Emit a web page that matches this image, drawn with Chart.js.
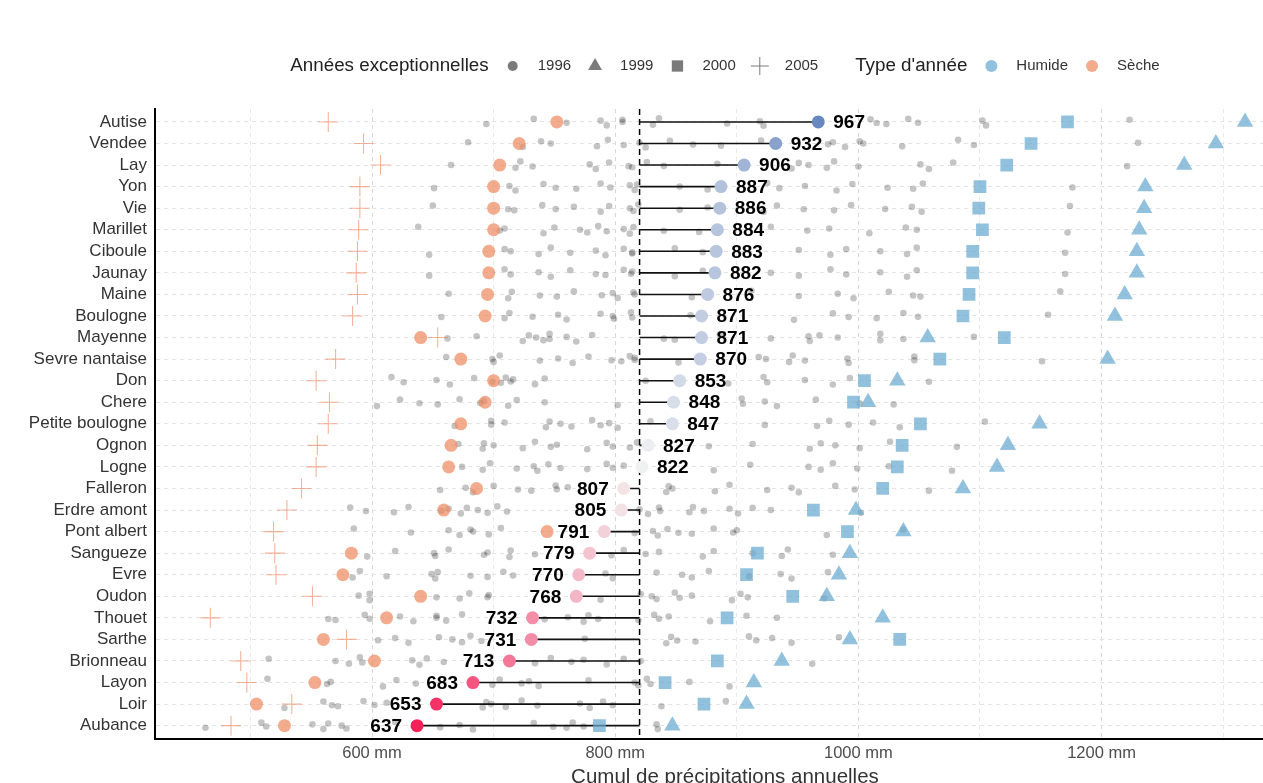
<!DOCTYPE html>
<html>
<head>
<meta charset="utf-8">
<script src="https://cdn.jsdelivr.net/npm/chart.js@4.4.0/dist/chart.umd.min.js"></script>
<style>
  html, body { margin: 0; padding: 0; background: #fff; overflow: hidden; }
  #wrap { width: 1306px; height: 794px; }
</style>
</head>
<body>
<div id="wrap"><canvas id="chart" width="1306" height="794"></canvas></div>
<script>
// ---- données ----
const rivers = ["Autise", "Vendee", "Lay", "Yon", "Vie", "Marillet", "Ciboule", "Jaunay", "Maine",
  "Boulogne", "Mayenne", "Sevre nantaise", "Don", "Chere", "Petite boulogne", "Ognon", "Logne",
  "Falleron", "Erdre amont", "Pont albert", "Sangueze", "Evre", "Oudon", "Thouet", "Sarthe",
  "Brionneau", "Layon", "Loir", "Aubance"];

const moyennes = [967, 932, 906, 887, 886, 884, 883, 882, 876, 871, 871, 870, 853, 848, 847,
  827, 822, 807, 805, 791, 779, 770, 768, 732, 731, 713, 683, 653, 637];

// années exceptionnelles (1996 et 2005 : sèches, 1999 et 2000 : humides)
const an1996 = [752, 721, 705, 700, 700, 700, 696, 696, 695, 693, 640, 673, 700, 693, 673,
  665, 663, 686, 659, 744, 583, 576, 640, 612, 560, 602, 553, 505, 528];
const an1999 = [1318, 1294, 1268, 1236, 1235, 1231, 1229, 1229, 1219, 1211, 1057, 1205, 1032, 1008, 1149,
  1123, 1114, 1086, 998, 1037, 993, 984, 974, 1020, 993, 937, 914, 908, 847];
const an2000 = [1172, 1142, 1122, 1100, 1099, 1102, 1094, 1094, 1091, 1086, 1120, 1067, 1005, 996, 1051,
  1036, 1032, 1020, 963, 991, 917, 908, 946, 892, 1034, 884, 841, 873, 787];
const an2005 = [564, 593, 607, 590, 590, 589, 588, 587, 588, 584, 654, 570, 554, 565, 564,
  555, 554, 542, 530, 519, 520, 521, 551, 467, 579, 492, 497, 534, 484];

// autres années (points gris)
const autres = [
  [694, 733, 760, 788, 793, 806, 806, 831, 836, 892, 919, 922, 1010, 1015, 1023, 1041, 1049, 1102, 1105, 1223],
  [679, 724, 739, 747, 785, 794, 807, 820, 825, 845, 864, 887, 920, 975, 979, 989, 1001, 1004, 1036, 1082, 1095, 1230],
  [665, 718, 722, 732, 779, 784, 795, 811, 814, 826, 840, 884, 945, 951, 959, 974, 980, 1000, 1051, 1058, 1078, 1221],
  [651, 713, 718, 741, 751, 768, 788, 796, 812, 816, 818, 853, 876, 925, 935, 956, 982, 995, 1024, 1045, 1053, 1176],
  [650, 712, 717, 740, 751, 766, 788, 795, 812, 815, 819, 853, 876, 922, 933, 955, 980, 994, 1022, 1044, 1052, 1174],
  [638, 705, 709, 741, 750, 771, 777, 786, 793, 807, 812, 815, 840, 869, 928, 958, 976, 1009, 1039, 1048, 1172],
  [647, 709, 714, 737, 747, 763, 784, 792, 807, 814, 814, 849, 872, 951, 977, 990, 1018, 1040, 1048, 1170],
  [647, 709, 714, 737, 747, 763, 784, 792, 807, 813, 814, 849, 872, 928, 951, 977, 990, 1018, 1040, 1048, 1170],
  [663, 712, 715, 738, 752, 766, 789, 798, 802, 815, 816, 863, 912, 951, 983, 996, 1025, 1045, 1051, 1166],
  [657, 709, 713, 732, 753, 760, 788, 798, 799, 813, 814, 862, 947, 979, 992, 1015, 1037, 1049, 1156],
  [662, 686, 724, 729, 735, 741, 746, 746, 760, 768, 781, 840, 849, 886, 928, 959, 960, 968, 983, 1018, 1018, 1037, 1095],
  [661, 699, 700, 705, 738, 753, 765, 778, 797, 805, 812, 816, 816, 852, 918, 924, 943, 946, 956, 991, 992, 1046, 1046, 1151],
  [616, 626, 653, 664, 684, 699, 706, 710, 714, 716, 734, 742, 825, 893, 922, 925, 956, 979, 993, 1058],
  [604, 623, 639, 654, 672, 689, 692, 712, 719, 742, 802, 904, 905, 923, 933, 965, 1001, 1029],
  [668, 698, 698, 709, 743, 746, 755, 764, 781, 788, 795, 802, 829, 923, 966, 976, 992, 1012, 1034, 1104],
  [671, 691, 692, 700, 724, 734, 747, 752, 777, 793, 798, 812, 818, 877, 913, 960, 969, 981, 1001, 1026, 1081],
  [674, 691, 697, 719, 733, 736, 745, 755, 777, 793, 798, 807, 881, 911, 959, 969, 979, 999, 1025, 1077],
  [656, 677, 683, 700, 720, 731, 751, 752, 761, 842, 844, 847, 882, 894, 925, 945, 951, 981, 997, 1058],
  [582, 595, 618, 630, 657, 663, 673, 678, 687, 695, 703, 711, 820, 827, 836, 837, 861, 864, 873, 894, 901, 913, 928, 1002],
  [585, 632, 663, 672, 681, 683, 696, 706, 816, 831, 835, 843, 852, 863, 881, 897, 900, 974, 1037],
  [596, 619, 651, 652, 663, 692, 695, 713, 714, 734, 797, 807, 825, 836, 872, 881, 913, 937, 942, 979],
  [584, 590, 612, 649, 652, 654, 681, 695, 708, 716, 792, 798, 834, 855, 863, 877, 910, 936, 945, 975],
  [589, 598, 598, 653, 672, 680, 695, 696, 788, 821, 830, 834, 849, 853, 863, 896, 903, 909, 972],
  [564, 570, 594, 598, 623, 634, 653, 653, 661, 674, 742, 761, 774, 778, 786, 819, 832, 836, 844, 878, 908, 933],
  [605, 619, 630, 655, 666, 674, 681, 690, 775, 842, 846, 851, 866, 910, 916, 929, 945, 984],
  [515, 570, 581, 590, 592, 633, 639, 645, 659, 734, 747, 764, 774, 793, 807, 821, 962],
  [514, 563, 566, 609, 620, 636, 699, 705, 723, 729, 737, 778, 816, 819, 826, 829, 861, 894],
  [528, 560, 567, 572, 593, 602, 612, 691, 694, 698, 710, 723, 736, 771, 779, 790, 798, 838, 891],
  [463, 509, 513, 551, 560, 564, 575, 579, 619, 656, 672, 683, 733, 749, 760, 765, 774, 834, 835]
];

const xTicks = [500, 600, 700, 800, 900, 1000, 1100, 1200, 1300];
const xLabelled = [600, 800, 1000, 1200];

// ---- style ----
const FONT = '"Liberation Sans", Arial, sans-serif';
const HUMIDE = 'rgba(103,169,207,0.72)';
const SECHE = 'rgba(239,138,98,0.72)';
const JITTER = [0.1, -0.14, 0.04, -0.06, 0.16, -0.1, 0.0, 0.13, -0.17, 0.07, -0.03, 0.18, -0.12, 0.05];
const LOW = [245, 32, 88], MID = [242, 242, 242], HIGH = [104, 136, 194];

const reference = moyennes.reduce((a, b) => a + b, 0) / moyennes.length;
const vmin = Math.min(...moyennes), vmax = Math.max(...moyennes);

function couleur(v) {
  let t, c;
  if (v >= reference) { t = (v - reference) / (vmax - reference); c = HIGH; }
  else { t = (reference - v) / (reference - vmin); c = LOW; }
  const m = MID.map((m0, k) => Math.round(m0 + (c[k] - m0) * t));
  return `rgb(${m[0]},${m[1]},${m[2]})`;
}

const grisData = [];
autres.forEach((vals, i) => vals.forEach((v, j) => grisData.push({ x: v, y: i + JITTER[(j + i * 3) % JITTER.length] })));

const segData = [];
moyennes.forEach((v, i) => { segData.push({ x: reference, y: i }, { x: v, y: i }, { x: reference, y: null }); });

const pts = arr => arr.map((v, i) => ({ x: v, y: i }));

// étiquettes des moyennes
const etiquettes = {
  id: 'etiquettes',
  afterDatasetsDraw(chart) {
    const { ctx, scales: { x, y } } = chart;
    ctx.save();
    ctx.font = 'bold 19px ' + FONT;
    ctx.fillStyle = '#000';
    ctx.textBaseline = 'middle';
    moyennes.forEach((v, i) => {
      const px = x.getPixelForValue(v), py = y.getPixelForValue(i) + 1;
      if (v >= reference) { ctx.textAlign = 'left'; ctx.fillText(v, px + 15, py); }
      else { ctx.textAlign = 'right'; ctx.fillText(v, px - 15, py); }
    });
    ctx.restore();
  }
};

// légende en haut
const legende = {
  id: 'legende',
  afterDraw(chart) {
    const ctx = chart.ctx;
    const cy = 66;
    const grey = '#7a7a7a';
    const groups = [
      { title: 'Années exceptionnelles', items: [
        { text: '1996', style: 'circle', r: 5, fill: grey },
        { text: '1999', style: 'triangle', r: 8, fill: grey },
        { text: '2000', style: 'rect', r: 8, fill: grey },
        { text: '2005', style: 'cross', r: 9, stroke: grey }
      ] },
      { title: "Type d'année", items: [
        { text: 'Humide', style: 'circle', r: 6, fill: HUMIDE },
        { text: 'Sèche', style: 'circle', r: 6, fill: SECHE }
      ] }
    ];
    const tFont = '18.8px ' + FONT, iFont = '15px ' + FONT;
    ctx.save();
    let total = 0;
    groups.forEach((g, gi) => {
      ctx.font = tFont; total += ctx.measureText(g.title).width;
      ctx.font = iFont;
      g.items.forEach(it => { total += 24 + 25 + ctx.measureText(it.text).width; });
      if (gi < groups.length - 1) total += 37;
    });
    let x = (chart.chartArea.left + chart.chartArea.right) / 2 - total / 2;
    ctx.textBaseline = 'middle';
    ctx.textAlign = 'left';
    groups.forEach(g => {
      ctx.font = tFont; ctx.fillStyle = '#222';
      ctx.fillText(g.title, x, cy);
      x += ctx.measureText(g.title).width;
      g.items.forEach(it => {
        x += 24;
        ctx.fillStyle = it.fill || 'rgba(0,0,0,0)';
        ctx.strokeStyle = it.stroke || 'rgba(0,0,0,0)';
        ctx.lineWidth = 1;
        Chart.helpers.drawPoint(ctx, { pointStyle: it.style, radius: it.r, borderWidth: it.stroke ? 1 : 0, rotation: 0 }, x, cy);
        x += 25;
        ctx.font = iFont; ctx.fillStyle = '#333';
        ctx.fillText(it.text, x, cy);
        x += ctx.measureText(it.text).width;
      });
      x += 37;
    });
    ctx.restore();
  }
};

new Chart(document.getElementById('chart'), {
  type: 'scatter',
  data: {
    datasets: [
      { label: '2005', data: pts(an2005), pointStyle: 'cross', pointRadius: 10, borderColor: 'rgba(239,138,98,0.65)', borderWidth: 1.1, backgroundColor: SECHE, order: 1 },
      { label: '2000', data: pts(an2000), pointStyle: 'rect', pointRadius: 9, backgroundColor: HUMIDE, borderWidth: 0, order: 1 },
      { label: '1999', data: pts(an1999), pointStyle: 'triangle', pointRadius: 9.5, backgroundColor: HUMIDE, borderWidth: 0, order: 1 },
      { label: '1996', data: pts(an1996), pointStyle: 'circle', pointRadius: 6.5, backgroundColor: SECHE, borderWidth: 0, order: 1 },
      { label: 'moyenne', data: pts(moyennes), pointRadius: 6.5, backgroundColor: moyennes.map(couleur), borderWidth: 0, order: 2 },
      { label: 'segments', type: 'line', data: segData, showLine: true, spanGaps: false, borderColor: '#111', borderWidth: 1.6, pointRadius: 0, order: 3 },
      { label: 'reference', type: 'line', data: [{ x: reference, y: -0.6 }, { x: reference, y: rivers.length - 0.4 }], showLine: true, borderColor: '#000', borderWidth: 1.5, borderDash: [6, 4], pointRadius: 0, order: 4 },
      { label: 'autres', data: grisData, pointRadius: 3.3, backgroundColor: 'rgba(0,0,0,0.23)', borderWidth: 0, order: 5 }
    ]
  },
  options: {
    responsive: false,
    animation: false,
    events: [],
    layout: { padding: { top: 109, left: 0, right: 0, bottom: 0 } },
    plugins: { legend: { display: false }, tooltip: { enabled: false } },
    scales: {
      x: {
        type: 'linear', min: 421.5, max: 1359,
        afterBuildTicks: a => { a.ticks = xTicks.map(v => ({ value: v })); },
        ticks: {
          autoSkip: false, maxRotation: 0, padding: 5, color: '#4d4d4d',
          font: { family: FONT, size: 16.5 },
          callback: v => xLabelled.includes(v) ? v + ' mm' : ''
        },
        grid: {
          drawTicks: false,
          color: c => (c.tick && xLabelled.includes(c.tick.value)) ? '#d6d6d6' : '#e8e8e8',
          lineWidth: 1
        },
        border: { display: true, color: '#000', width: 2, dash: [4, 4] },
        title: { display: true, text: 'Cumul de précipitations annuelles', color: '#333', font: { family: FONT, size: 20.5 }, padding: { top: -3, bottom: 4 } }
      },
      y: {
        type: 'linear', reverse: true, min: -0.6, max: rivers.length - 0.4,
        afterBuildTicks: a => { a.ticks = rivers.map((_, i) => ({ value: i })); },
        afterFit: s => { s.width = 155; },
        ticks: {
          autoSkip: false, padding: 8, color: '#333',
          font: { family: FONT, size: 17 },
          callback: v => rivers[v]
        },
        grid: { drawTicks: false, color: '#e3e3e3', lineWidth: 1 },
        border: { display: true, color: '#000', width: 2, dash: [4, 4] }
      }
    }
  },
  plugins: [etiquettes, legende]
});
</script>
</body>
</html>
